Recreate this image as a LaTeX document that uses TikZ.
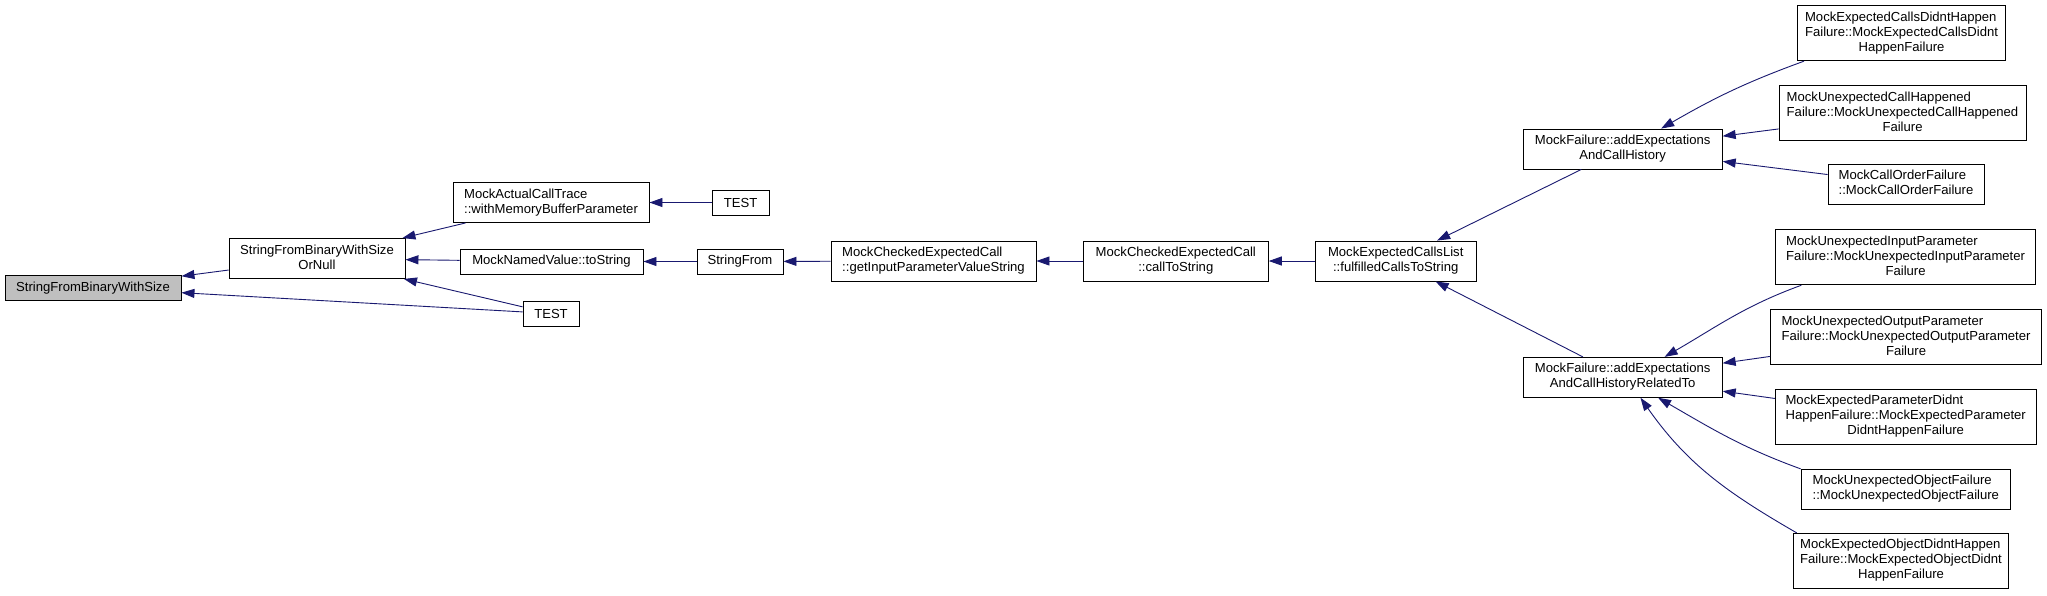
\documentclass[tikz,border=0pt]{standalone}
\usepackage{fontspec}
\setmainfont{Liberation Sans}
\usetikzlibrary{arrows.meta}
\definecolor{edgeblue}{HTML}{191970}
\definecolor{rootgray}{HTML}{BFBFBF}
\newcommand{\lbl}[1]{\begin{tabular}{@{}l@{}}#1\end{tabular}}
\newcommand{\lastln}[1]{\multicolumn{1}{@{}c@{}}{#1}}
\begin{document}
\begin{tikzpicture}[x=1pt, y=-1pt,
        fn/.style={draw, line width=0.9pt, inner sep=0pt,
            font={\fontsize{13.1}{15}\selectfont}},
        one/.style={fn, minimum height=25pt},
        two/.style={fn, minimum height=40pt},
        three/.style={fn, minimum height=55pt},
        edge/.style={draw=edgeblue, line width=0.9pt, -{Triangle[length=13pt,width=9pt]}}]
        \path[fill=white, use as bounding box] (0,0) rectangle (2047,595);
        % callees on the left, callers to the right
        \node[one, fill=rootgray, minimum width=176pt] (sfbws) at (93,287.7) {StringFromBinaryWithSize};
        \node[two, minimum width=176pt] (orn) at (317,258.5) {\lbl{StringFromBinaryWithSize\\\lastln{OrNull}}};
        \node[two, minimum width=196pt] (mact) at (551,202.5) {\lbl{MockActualCallTrace\\\lastln{::withMemoryBufferParameter}}};
        \node[one, minimum width=183pt] (nvts) at (551.5,261.5) {MockNamedValue::toString};
        \node[one, minimum width=56pt] (testb) at (551,313.5) {TEST};
        \node[one, minimum width=57pt] (testa) at (740.5,202.5) {TEST};
        \node[one, minimum width=86pt] (sfrom) at (740,261.5) {StringFrom};
        \node[two, minimum width=205pt] (gipvs) at (933.5,261) {\lbl{MockCheckedExpectedCall\\\lastln{::getInputParameterValueString}}};
        \node[two, minimum width=185pt] (cts) at (1175.8,261) {\lbl{MockCheckedExpectedCall\\\lastln{::callToString}}};
        \node[two, minimum width=160.5pt] (fcts) at (1395.7,261) {\lbl{MockExpectedCallsList\\\lastln{::fulfilledCallsToString}}};
        \node[two, minimum width=199pt] (aech) at (1622.7,149) {\lbl{MockFailure::addExpectations\\\lastln{AndCallHistory}}};
        \node[two, minimum width=199pt] (aechr) at (1622.7,377.3) {\lbl{MockFailure::addExpectations\\\lastln{AndCallHistoryRelatedTo}}};
        % failure constructors
        \node[three, minimum width=208.5pt] (ecdh) at (1901.5,33.2) {\lbl{MockExpectedCallsDidntHappen\\Failure::MockExpectedCallsDidnt\\\lastln{HappenFailure}}};
        \node[three, minimum width=247pt] (ucall) at (1902.5,113) {\lbl{MockUnexpectedCallHappened\\Failure::MockUnexpectedCallHappened\\\lastln{Failure}}};
        \node[two, minimum width=156pt] (cof) at (1906,184.3) {\lbl{MockCallOrderFailure\\\lastln{::MockCallOrderFailure}}};
        \node[three, minimum width=260pt] (uip) at (1905.6,257.3) {\lbl{MockUnexpectedInputParameter\\Failure::MockUnexpectedInputParameter\\\lastln{Failure}}};
        \node[three, minimum width=271pt] (uop) at (1906,337.2) {\lbl{MockUnexpectedOutputParameter\\Failure::MockUnexpectedOutputParameter\\\lastln{Failure}}};
        \node[three, minimum width=261pt] (epdh) at (1905.7,416.7) {\lbl{MockExpectedParameterDidnt\\HappenFailure::MockExpectedParameter\\\lastln{DidntHappenFailure}}};
        \node[two, minimum width=209.7pt] (uof) at (1905.8,489.3) {\lbl{MockUnexpectedObjectFailure\\\lastln{::MockUnexpectedObjectFailure}}};
        \node[three, minimum width=215.7pt] (eodh) at (1901,560.8) {\lbl{MockExpectedObjectDidntHappen\\Failure::MockExpectedObjectDidnt\\\lastln{HappenFailure}}};
        \foreach \a/\b in {orn/sfbws, testb/sfbws, mact/orn, nvts/orn, testb/orn, testa/mact,
            sfrom/nvts, gipvs/sfrom, cts/gipvs, fcts/cts, aech/fcts, aechr/fcts,
            ucall/aech, cof/aech, uop/aechr, epdh/aechr}
            \draw[edge] (\a) -- (\b);
        \draw[edge] (ecdh.196) to[out=200, in=30] (aech.28);
        \draw[edge] (uip.195) to[out=200, in=30] (aechr.26);
        \draw[edge] (uof.169) to[out=160, in=-30] (aechr.-30);
        \draw[edge] (eodh.165) to[out=150, in=-55] (aechr.-49);
    \end{tikzpicture}
\end{document}
